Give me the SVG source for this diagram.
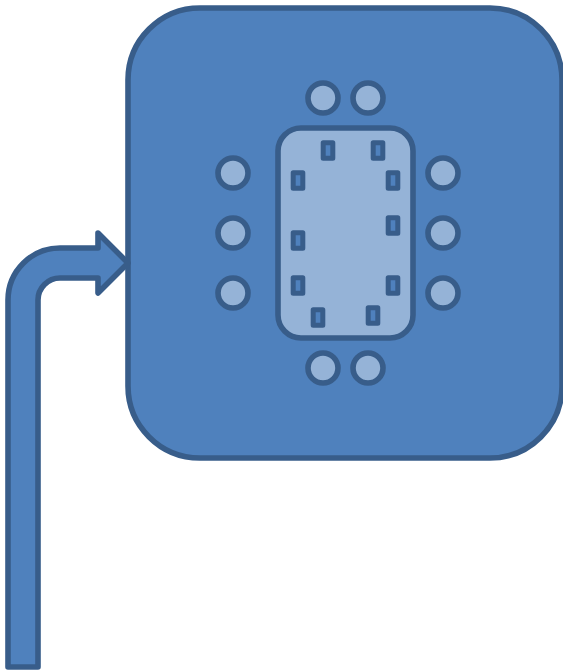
<svg xmlns="http://www.w3.org/2000/svg" width="563" height="672" viewBox="0 0 563 672">
<style>
.s{stroke:#385D8A;stroke-width:5.6;stroke-linejoin:round}
.d{fill:#4F81BD}
.l{fill:#95B3D7}
.p{fill:#4F81BD;stroke:#385D8A;stroke-width:5;stroke-linejoin:round}
</style>
<rect width="563" height="672" fill="#FFFFFF"/>
<g id="board"><rect class="s d" x="128" y="8" width="434" height="450" rx="72" ry="72"/></g>
<g id="connectors"><path id="arrow" class="s d" d="M8 667V300A52 52 0 0 1 60 248H98V233L128 263L98 293V278H60A22 22 0 0 0 38 300V667Z"/></g>
<g id="inner"><rect class="s l" x="278" y="128" width="135" height="210" rx="23" ry="23"/></g>
<g id="pins">
<rect class="p" x="323.200" y="142.700" width="9.600" height="15.600"/>
<rect class="p" x="373.200" y="142.700" width="9.600" height="15.600"/>
<rect class="p" x="293.200" y="172.700" width="9.600" height="15.600"/>
<rect class="p" x="388.200" y="172.700" width="9.600" height="15.600"/>
<rect class="p" x="388.200" y="217.700" width="9.600" height="15.600"/>
<rect class="p" x="293.200" y="232.700" width="9.600" height="15.600"/>
<rect class="p" x="293.200" y="277.700" width="9.600" height="15.600"/>
<rect class="p" x="388.200" y="277.700" width="9.600" height="15.600"/>
<rect class="p" x="313.200" y="309.700" width="9.600" height="15.600"/>
<rect class="p" x="368.200" y="307.700" width="9.600" height="15.600"/>
</g>
<g id="circles">
<circle class="s l" cx="323" cy="98" r="15"/>
<circle class="s l" cx="368" cy="98" r="15"/>
<circle class="s l" cx="233" cy="173" r="15"/>
<circle class="s l" cx="233" cy="233" r="15"/>
<circle class="s l" cx="233" cy="293" r="15"/>
<circle class="s l" cx="443" cy="173" r="15"/>
<circle class="s l" cx="443" cy="233" r="15"/>
<circle class="s l" cx="443" cy="293" r="15"/>
<circle class="s l" cx="323" cy="368" r="15"/>
<circle class="s l" cx="368" cy="368" r="15"/>
</g>
</svg>
